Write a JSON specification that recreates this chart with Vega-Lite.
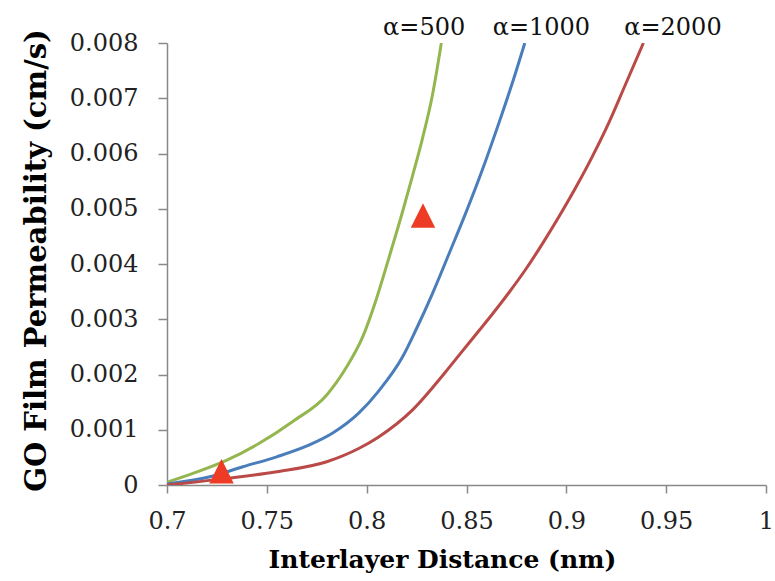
{
  "$schema": "https://vega.github.io/schema/vega-lite/v6.json",
  "width": 599,
  "height": 442,
  "autosize": {"type": "none"},
  "padding": {"left": 167, "top": 43, "right": 9, "bottom": 96},
  "background": "white",
  "config": {"view": {"stroke": null}, "font": "DejaVu Serif"},
  "datasets": {
    "curves": [
      {"alpha": "500", "d": 0.700, "p": 0.00005},
      {"alpha": "500", "d": 0.713, "p": 0.00021},
      {"alpha": "500", "d": 0.730, "p": 0.00045},
      {"alpha": "500", "d": 0.746, "p": 0.00075},
      {"alpha": "500", "d": 0.763, "p": 0.00115},
      {"alpha": "500", "d": 0.780, "p": 0.00163},
      {"alpha": "500", "d": 0.790, "p": 0.00214},
      {"alpha": "500", "d": 0.798, "p": 0.00268},
      {"alpha": "500", "d": 0.8047, "p": 0.00335},
      {"alpha": "500", "d": 0.8113, "p": 0.00413},
      {"alpha": "500", "d": 0.818, "p": 0.00495},
      {"alpha": "500", "d": 0.823, "p": 0.00560},
      {"alpha": "500", "d": 0.828, "p": 0.00628},
      {"alpha": "500", "d": 0.8329, "p": 0.00705},
      {"alpha": "500", "d": 0.8374, "p": 0.00800},
      {"alpha": "1000", "d": 0.700, "p": 0.00002},
      {"alpha": "1000", "d": 0.7215, "p": 0.00015},
      {"alpha": "1000", "d": 0.738, "p": 0.00033},
      {"alpha": "1000", "d": 0.755, "p": 0.00051},
      {"alpha": "1000", "d": 0.771, "p": 0.00072},
      {"alpha": "1000", "d": 0.783, "p": 0.00094},
      {"alpha": "1000", "d": 0.796, "p": 0.00130},
      {"alpha": "1000", "d": 0.806, "p": 0.00170},
      {"alpha": "1000", "d": 0.818, "p": 0.00232},
      {"alpha": "1000", "d": 0.8247, "p": 0.00281},
      {"alpha": "1000", "d": 0.833, "p": 0.00347},
      {"alpha": "1000", "d": 0.8413, "p": 0.00419},
      {"alpha": "1000", "d": 0.8496, "p": 0.00492},
      {"alpha": "1000", "d": 0.8579, "p": 0.00570},
      {"alpha": "1000", "d": 0.8662, "p": 0.00655},
      {"alpha": "1000", "d": 0.8729, "p": 0.00727},
      {"alpha": "1000", "d": 0.8792, "p": 0.00800},
      {"alpha": "2000", "d": 0.700, "p": 0.00000},
      {"alpha": "2000", "d": 0.730, "p": 0.00012},
      {"alpha": "2000", "d": 0.755, "p": 0.00024},
      {"alpha": "2000", "d": 0.780, "p": 0.00042},
      {"alpha": "2000", "d": 0.796, "p": 0.00066},
      {"alpha": "2000", "d": 0.806, "p": 0.00087},
      {"alpha": "2000", "d": 0.823, "p": 0.00136},
      {"alpha": "2000", "d": 0.8396, "p": 0.00205},
      {"alpha": "2000", "d": 0.8463, "p": 0.00235},
      {"alpha": "2000", "d": 0.8546, "p": 0.00272},
      {"alpha": "2000", "d": 0.8629, "p": 0.00309},
      {"alpha": "2000", "d": 0.8712, "p": 0.00348},
      {"alpha": "2000", "d": 0.8796, "p": 0.00390},
      {"alpha": "2000", "d": 0.8879, "p": 0.00436},
      {"alpha": "2000", "d": 0.8962, "p": 0.00485},
      {"alpha": "2000", "d": 0.9045, "p": 0.00537},
      {"alpha": "2000", "d": 0.9128, "p": 0.00593},
      {"alpha": "2000", "d": 0.9212, "p": 0.00655},
      {"alpha": "2000", "d": 0.9295, "p": 0.00724},
      {"alpha": "2000", "d": 0.9386, "p": 0.00800}
    ],
    "labels": [
      {"label": "α=500", "d": 0.8288, "p": 0.008},
      {"label": "α=1000", "d": 0.8875, "p": 0.008},
      {"label": "α=2000", "d": 0.9534, "p": 0.008}
    ],
    "markers": [
      {"d": 0.7273, "p": 0.00025},
      {"d": 0.8282, "p": 0.00488}
    ]
  },
  "layer": [
    {
      "data": {"name": "curves"},
      "mark": {"type": "line", "interpolate": "monotone", "strokeWidth": 3, "clip": true},
      "encoding": {
        "x": {
          "field": "d", "type": "quantitative",
          "scale": {"domain": [0.7, 1], "nice": false, "zero": false},
          "axis": {
            "values": [0.7, 0.75, 0.8, 0.85, 0.9, 0.95, 1],
            "format": "~g",
            "grid": false,
            "domainColor": "#888888", "domainWidth": 1.5,
            "tickColor": "#888888", "tickWidth": 1.5, "tickSize": 8,
            "labelFont": "DejaVu Serif", "labelFontSize": 24, "labelColor": "#222222",
            "labelPadding": 16, "labelFlush": false, "labelOverlap": false,
            "title": "Interlayer Distance (nm)",
            "titleFont": "DejaVu Serif", "titleFontSize": 25, "titleFontWeight": "bold", "titleColor": "#000000",
            "titleX": 275, "titleY": 82, "titleBaseline": "alphabetic", "titleAlign": "center"
          }
        },
        "y": {
          "field": "p", "type": "quantitative",
          "scale": {"domain": [0, 0.008], "nice": false},
          "axis": {
            "values": [0, 0.001, 0.002, 0.003, 0.004, 0.005, 0.006, 0.007, 0.008],
            "format": "~g",
            "grid": false,
            "domainColor": "#888888", "domainWidth": 1.5,
            "tickColor": "#888888", "tickWidth": 1.5, "tickSize": 9,
            "labelFont": "DejaVu Serif", "labelFontSize": 24, "labelColor": "#222222",
            "labelPadding": 20, "labelOverlap": false,
            "title": "GO Film Permeability (cm/s)",
            "titleFont": "DejaVu Serif", "titleFontSize": 29, "titleFontWeight": "bold", "titleColor": "#000000",
            "titleX": -122, "titleY": 217, "titleBaseline": "alphabetic", "titleAlign": "center", "titleAngle": -90
          }
        },
        "color": {
          "field": "alpha", "type": "nominal",
          "scale": {"domain": ["500", "1000", "2000"], "range": ["#94b64f", "#4a7ebb", "#b94a47"]},
          "legend": null
        }
      }
    },
    {
      "data": {"name": "labels"},
      "mark": {"type": "text", "font": "DejaVu Serif", "fontSize": 24, "baseline": "alphabetic", "align": "center", "dy": -8, "color": "#111111"},
      "encoding": {
        "x": {"field": "d", "type": "quantitative"},
        "y": {"field": "p", "type": "quantitative"},
        "text": {"field": "label", "type": "nominal"}
      }
    },
    {
      "data": {"name": "markers"},
      "mark": {"type": "point", "shape": "M0,-1L-1,1L1,1Z", "filled": true, "color": "#ee3b25", "opacity": 1, "size": 600},
      "encoding": {
        "x": {"field": "d", "type": "quantitative"},
        "y": {"field": "p", "type": "quantitative"}
      }
    }
  ]
}
